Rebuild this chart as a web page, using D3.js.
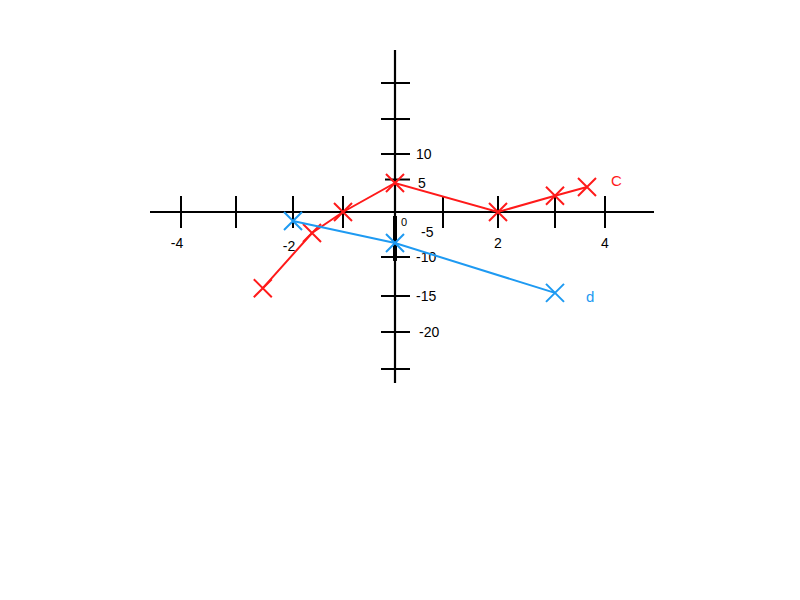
<!DOCTYPE html>
<html><head><meta charset="utf-8">
<script src="https://cdn.jsdelivr.net/npm/d3@7"></script>
<style>body{margin:0;background:#fff}svg{display:block}text{font-family:"Liberation Sans",Arial,sans-serif}</style>
</head><body>
<svg id="c" width="800" height="600"></svg>
<script>
// hand-drawn axis tick positions (units)
const xTickValues = [-4, -3, -2, -1, 0, 1, 2, 3, 4];
const xTickLabels = ["-4", "", "-2", "", "", "", "2", "", "4"];
const yTickValues = [-25, -20, -15, -10, 10, 15, 20];
const yLabelValues = [10, 5, -5, -10, -15, -20];
const yLabelText = ["10", "5", "-5", "-10", "-15", "-20"];

const seriesCx = [-2.53, -1.62, -1, 0, 2, 3, 3.64];
const seriesCy = [-14, -5.2, 0, 5, 0, 2.8, 4.3];
const seriesDx = [-2, 0, 3];
const seriesDy = [-2.25, -7.2, -14.6];
const seriesNames = ["C", "d"];
const seriesColors = ["#ff1a1a", "#1e9af2"];

const svg = d3.select("#c");
// piecewise scales follow the hand-drawn grid
const x = d3.scaleLinear()
  .domain([-4.8, -4, -3, -2, -1, 0, 1, 2, 3, 4, 5])
  .range([150, 181, 236, 293, 343, 395, 443, 498, 555, 605, 654]);
const y = d3.scaleLinear()
  .domain([-29, -25, -20, -15, -10, -5, 0, 5, 10, 15, 20, 28])
  .range([383, 369, 332, 296, 257, 232, 212, 183, 154, 119, 83, 50]);

const g = svg.append("g");
// x axis line
g.append("line").attr("x1", x(-4.8)).attr("x2", x(5)).attr("y1", y(0)).attr("y2", y(0))
  .attr("stroke", "#000").attr("stroke-width", 2.2);
// y axis line
g.append("line").attr("x1", x(0)).attr("x2", x(0)).attr("y1", y(28)).attr("y2", y(-29))
  .attr("stroke", "#000").attr("stroke-width", 2.2);
// thicker segment
g.append("line").attr("x1", x(0)).attr("x2", x(0)).attr("y1", y(-1)).attr("y2", y(-10.5))
  .attr("stroke", "#000").attr("stroke-width", 4);

// x ticks
g.selectAll(".xt").data(xTickValues.filter(v => v !== 0)).join("line")
  .attr("x1", d => x(d)).attr("x2", d => x(d))
  .attr("y1", y(0) - 16).attr("y2", y(0) + 16)
  .attr("stroke", "#000").attr("stroke-width", 2);
g.selectAll(".xl").data(xTickValues).join("text")
  .attr("x", d => x(d) - (d < 0 ? 4 : 0)).attr("y", d => y(0) + (d === -2 ? 39 : 36))
  .attr("text-anchor", "middle").attr("font-size", 14).attr("fill", "#000")
  .text((d, i) => xTickLabels[i]);

// y ticks
g.selectAll(".yt").data(yTickValues).join("line")
  .attr("x1", x(0) - 14).attr("x2", x(0) + 15)
  .attr("y1", d => y(d)).attr("y2", d => y(d))
  .attr("stroke", "#000").attr("stroke-width", 2);
g.append("line").attr("x1", x(0) - 10).attr("x2", x(0) + 15)
  .attr("y1", y(5.6)).attr("y2", y(5.6)).attr("stroke", "#000").attr("stroke-width", 2);
g.selectAll(".yl").data(yLabelValues).join("text")
  .attr("x", d => x(0) + (d === 5 ? 23 : d === -5 ? 26 : d === -20 ? 24 : 21)).attr("y", d => y(d) + 5)
  .attr("font-size", 14).attr("fill", "#000")
  .text((d, i) => yLabelText[i]);
g.append("text").attr("x", x(0) + 6).attr("y", y(0) + 14).attr("font-size", 11).attr("fill", "#000").text("0");

const line = d3.line().x(d => x(d[0])).y(d => y(d[1]));
const dataC = seriesCx.map((v, i) => [v, seriesCy[i]]);
const dataD = seriesDx.map((v, i) => [v, seriesDy[i]]);
[[dataC, 0], [dataD, 1]].forEach(([data, k]) => {
  const col = seriesColors[k];
  g.append("path").datum(data).attr("d", line).attr("fill", "none")
    .attr("stroke", col).attr("stroke-width", 2);
  const m = g.append("g");
  data.forEach(p => {
    const cx = x(p[0]), cy = y(p[1]), r = 9;
    m.append("path").attr("d", `M${cx - r},${cy - r}L${cx + r},${cy + r}M${cx + r},${cy - r}L${cx - r},${cy + r}`)
      .attr("stroke", col).attr("stroke-width", 2).attr("fill", "none");
  });
});
g.append("text").attr("x", x(3.64) + 24).attr("y", y(4.3) - 1).attr("font-size", 15)
  .attr("fill", seriesColors[0]).text(seriesNames[0]);
g.append("text").attr("x", x(3) + 31).attr("y", y(-14.6) + 9).attr("font-size", 15)
  .attr("fill", seriesColors[1]).text(seriesNames[1]);
</script>
</body></html>
